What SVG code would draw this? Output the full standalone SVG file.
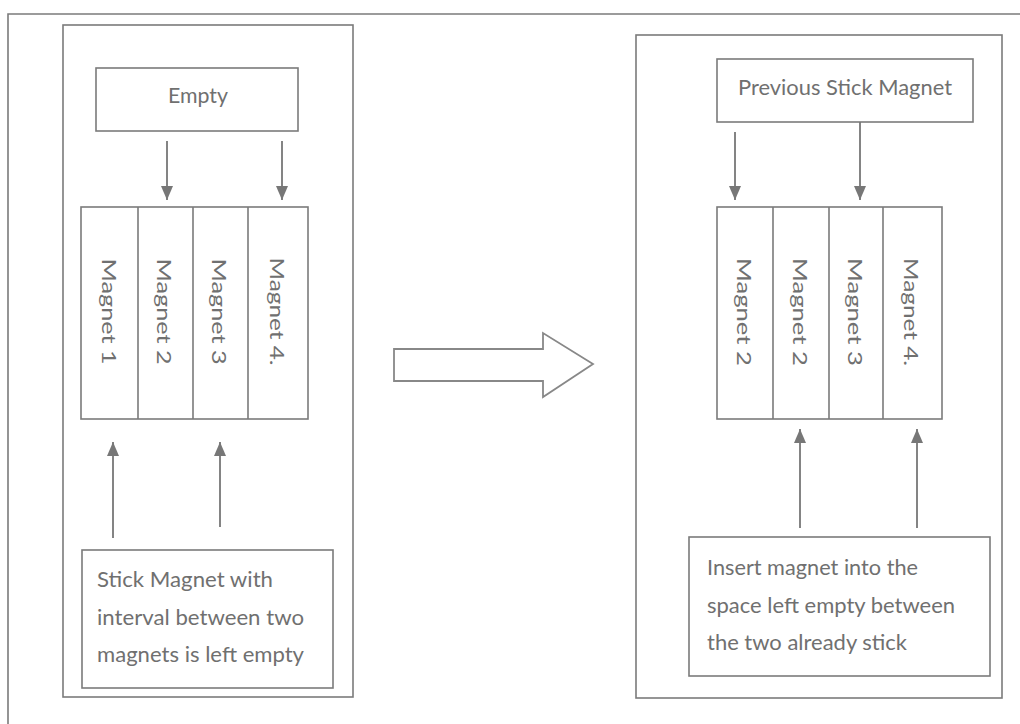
<svg xmlns="http://www.w3.org/2000/svg" width="1020" height="724" viewBox="0 0 1020 724">
<style>
.box{fill:#fff;stroke:#7b7b7b;stroke-width:1.6}
.ln{fill:none;stroke:#7b7b7b;stroke-width:1.6}
.con{fill:none;stroke:#777;stroke-width:1.8;marker-end:url(#ah)}
.t{font-family:Lato,"Open Sans","Liberation Sans",sans-serif;font-size:22px;fill:#707070}
.m{font-family:Lato,"Open Sans","Liberation Sans",sans-serif;font-size:20px;fill:#707070;text-anchor:middle}
</style>
<defs>
<marker id="ah" markerUnits="userSpaceOnUse" markerWidth="14" markerHeight="12" refX="14" refY="6" viewBox="0 0 14 12" orient="auto">
<path d="M0,0 L14,6 L0,12 z" fill="#777"/>
</marker>
</defs>
<rect width="1020" height="724" fill="#fff"/>
<path class="ln" d="M8,724 V14 H1020"/>
<g id="left-panel">
<rect class="box" x="63" y="25" width="290" height="672"/>
</g>
<g id="right-panel">
<rect class="box" x="636" y="35" width="366" height="663"/>
</g>
<g id="empty">
<rect class="box" x="96" y="68" width="202" height="63"/>
<text class="t" x="198" y="103" text-anchor="middle" textLength="60" lengthAdjust="spacingAndGlyphs">Empty</text>
</g>
<g id="left-magnets">
<rect class="box" x="81" y="207" width="227" height="212"/>
<path class="ln" d="M138,207 V419 M193,207 V419 M248,207 V419"/>
<text class="m" transform="translate(102,311.5) rotate(90)" textLength="106" lengthAdjust="spacingAndGlyphs">Magnet 1</text>
<text class="m" transform="translate(157,311.5) rotate(90)" textLength="106" lengthAdjust="spacingAndGlyphs">Magnet 2</text>
<text class="m" transform="translate(212,311.5) rotate(90)" textLength="106" lengthAdjust="spacingAndGlyphs">Magnet 3</text>
<text class="m" transform="translate(270,311.5) rotate(90)" textLength="108" lengthAdjust="spacingAndGlyphs">Magnet 4.</text>
</g>
<g id="stick">
<rect class="box" x="82" y="550" width="251" height="138"/>
<text class="t" x="97" y="587" textLength="176" lengthAdjust="spacingAndGlyphs">Stick Magnet with</text>
<text class="t" x="97" y="625" textLength="207" lengthAdjust="spacingAndGlyphs">interval between two</text>
<text class="t" x="97" y="662" textLength="207" lengthAdjust="spacingAndGlyphs">magnets is left empty</text>
</g>
<g id="big-arrow">
<polygon points="394,349 543,349 543,333 593,364 543,397 543,381 394,381" fill="#fff" stroke="#888" stroke-width="1.8" stroke-linejoin="miter"/>
</g>
<g id="previous">
<rect class="box" x="717" y="59" width="256" height="63"/>
<text class="t" x="845" y="95" text-anchor="middle" textLength="214" lengthAdjust="spacingAndGlyphs">Previous Stick Magnet</text>
</g>
<g id="right-magnets">
<rect class="box" x="717" y="207" width="225" height="212"/>
<path class="ln" d="M773,207 V419 M829,207 V419 M883,207 V419"/>
<text class="m" transform="translate(737,312) rotate(90)" textLength="108" lengthAdjust="spacingAndGlyphs">Magnet 2</text>
<text class="m" transform="translate(793,312) rotate(90)" textLength="108" lengthAdjust="spacingAndGlyphs">Magnet 2</text>
<text class="m" transform="translate(848,312) rotate(90)" textLength="108" lengthAdjust="spacingAndGlyphs">Magnet 3</text>
<text class="m" transform="translate(904,312) rotate(90)" textLength="108" lengthAdjust="spacingAndGlyphs">Magnet 4.</text>
</g>
<g id="insert">
<rect class="box" x="689" y="537" width="301" height="139"/>
<text class="t" x="707" y="575" textLength="211" lengthAdjust="spacingAndGlyphs">Insert magnet into the</text>
<text class="t" x="707" y="613" textLength="248" lengthAdjust="spacingAndGlyphs">space left empty between</text>
<text class="t" x="707" y="650" textLength="200" lengthAdjust="spacingAndGlyphs">the two already stick</text>
</g>
<g id="connectors">
<line class="con" x1="167" y1="141" x2="167" y2="200"/>
<line class="con" x1="282" y1="141" x2="282" y2="200"/>
<line class="con" x1="113" y1="538" x2="113" y2="442"/>
<line class="con" x1="220" y1="527" x2="220" y2="442"/>
<line class="con" x1="735" y1="132" x2="735" y2="200"/>
<line class="con" x1="860" y1="122" x2="860" y2="200"/>
<line class="con" x1="800" y1="528" x2="800" y2="429"/>
<line class="con" x1="917" y1="528" x2="917" y2="429"/>
</g>
</svg>
